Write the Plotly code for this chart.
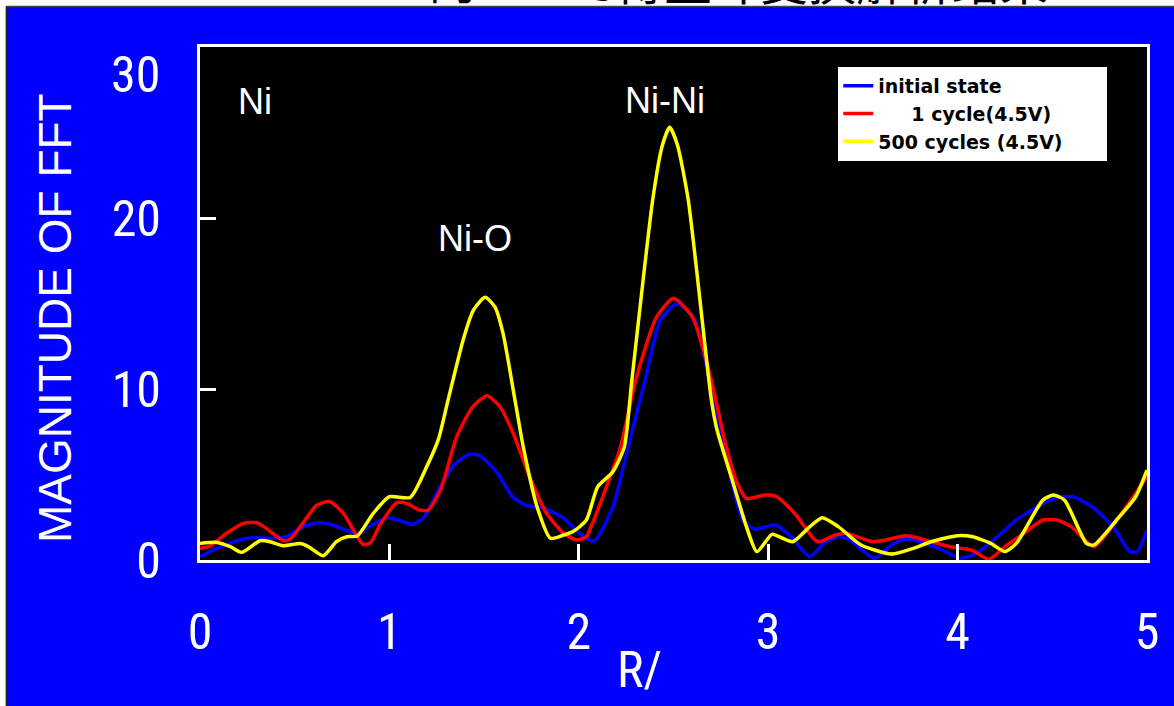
import plotly.graph_objects as go

# ---- data ----
r_initial = [0.0,0.07,0.14,0.21,0.28,0.39,0.46,0.545,0.63,0.70,0.79,0.83,0.88,0.985,1.056,1.12,1.18,1.25,1.34,1.425,1.48,1.57,1.65,1.72,1.81,1.92,2.0,2.08,2.18,2.26,2.35,2.43,2.52,2.61,2.69,2.78,2.865,2.93,3.04,3.12,3.22,3.295,3.37,3.43,3.56,3.65,3.725,3.80,3.90,4.01,4.10,4.21,4.31,4.45,4.545,4.62,4.72,4.82,4.91,4.95,5.0]
v_initial = [0.2,0.58,0.9,1.17,1.3,1.28,1.4,1.95,2.18,2.05,1.66,1.5,1.87,2.45,2.3,2.08,2.45,3.9,5.55,6.2,6.08,5.08,3.7,3.2,3.04,2.45,1.6,1.1,3.1,6.6,10.5,14.0,15.0,14.1,10.5,6.0,2.34,1.8,2.05,1.37,0.2,0.98,1.37,1.17,0.1,0.88,1.21,1.07,0.68,0.1,0.39,1.37,2.34,3.3,3.7,3.66,3.02,1.95,0.49,0.5,1.75]

r_1cycle = [0.0,0.05,0.14,0.23,0.30,0.35,0.44,0.475,0.53,0.616,0.686,0.757,0.81,0.86,0.90,0.95,1.04,1.09,1.16,1.205,1.27,1.355,1.44,1.515,1.584,1.654,1.74,1.83,1.92,1.99,2.04,2.065,2.14,2.22,2.30,2.41,2.50,2.60,2.70,2.77,2.83,2.885,2.98,3.04,3.14,3.26,3.355,3.41,3.55,3.62,3.725,3.80,3.96,4.075,4.165,4.25,4.35,4.45,4.525,4.60,4.72,4.84,5.0]
v_1cycle = [0.68,0.8,1.56,2.14,2.18,1.85,1.13,1.21,1.95,3.2,3.41,2.73,1.75,0.92,1.0,2.05,3.35,3.31,2.92,2.92,4.1,7.2,8.96,9.6,8.96,7.4,4.87,2.73,1.56,1.17,1.36,1.95,4.1,6.6,10.5,14.2,15.3,14.2,10.5,7.0,4.68,3.6,3.8,3.74,2.73,1.07,1.46,1.56,1.07,1.17,1.42,1.26,0.78,0.58,0.04,0.78,1.56,2.34,2.34,1.95,0.78,2.34,4.87]

r_500cycles = [0.0,0.09,0.16,0.22,0.317,0.37,0.44,0.53,0.57,0.65,0.72,0.775,0.83,0.915,1.0,1.11,1.197,1.26,1.31,1.39,1.443,1.505,1.557,1.60,1.663,1.707,1.78,1.85,1.92,1.97,2.04,2.10,2.18,2.24,2.28,2.39,2.44,2.48,2.52,2.578,2.70,2.73,2.81,2.885,2.94,3.02,3.07,3.13,3.22,3.285,3.37,3.49,3.65,3.765,3.86,4.0,4.075,4.175,4.25,4.31,4.45,4.505,4.565,4.68,4.72,4.84,4.94,5.0]
v_500cycles = [0.97,1.03,0.78,0.45,1.13,1.07,0.84,0.97,0.8,0.25,1.07,1.36,1.4,2.73,3.7,3.66,5.46,7.1,9.36,12.9,14.6,15.36,14.8,13.25,9.36,6.6,3.1,1.27,1.46,1.66,2.34,4.29,5.16,6.6,10.5,21.05,24.2,25.3,24.3,21.05,9.36,7.6,4.68,1.95,0.49,1.5,1.3,1.07,1.95,2.47,1.95,0.88,0.35,0.68,1.07,1.42,1.37,0.97,0.49,0.97,3.5,3.8,3.5,0.97,0.88,2.34,3.7,5.26]

series_names = ["initial state", "\u00a0\u00a0\u00a0\u00a0\u00a01 cycle(4.5V)", "500 cycles (4.5V)\u00a0\u00a0\u00a0\u00a0\u00a0\u00a0"]
series_colors = ["#0000FF", "#FF0000", "#FFFF00"]

x_ticks = [0, 1, 2, 3, 4, 5]
y_ticks = [0, 10, 20, 30]
y_tick_text = ["0", "10", "20", ""]

peak_labels = ["Ni", "Ni-O", "Ni-Ni"]
peak_x = [0.29, 1.45, 2.455]
peak_y = [26.8, 18.8, 26.9]

title_text = "Ni的EXAFS傅里叶变换解析结果"

NARROW = "Liberation Sans Narrow, Arial Narrow, Roboto Condensed, Liberation Sans, sans-serif"

fig = go.Figure()
for xs, ys, name, col in zip([r_initial, r_1cycle, r_500cycles],
                             [v_initial, v_1cycle, v_500cycles],
                             series_names, series_colors):
    fig.add_trace(go.Scatter(x=xs, y=ys, mode="lines", name=name,
                             line=dict(color=col, width=3.5, shape="spline", smoothing=0.6)))

annotations = []
for t, x, y in zip(peak_labels, peak_x, peak_y):
    annotations.append(dict(x=x, y=y, xref="x", yref="y", text=t, showarrow=False,
                            font=dict(family="Liberation Sans, Arial, sans-serif", size=36, color="white")))
# the "30" tick label sits lower in the reference
annotations.append(dict(x=0, y=30, xref="paper", yref="y", text="30", showarrow=False,
                        xanchor="right", yanchor="middle", xshift=-38, yshift=-28,
                        font=dict(family=NARROW, size=50, color="white")))
annotations.append(dict(x=-0.1531, y=0.4717, xref="paper", yref="paper", text="MAGNITUDE OF FFT",
                        textangle=-90, showarrow=False, xanchor="center", yanchor="middle",
                        font=dict(family="Liberation Sans, Arial, sans-serif", size=46, color="white")))
annotations.append(dict(x=0.4646, y=-0.2144, xref="paper", yref="paper", text="R/",
                        showarrow=False, xanchor="center", yanchor="middle",
                        font=dict(family=NARROW, size=50, color="white")))
annotations.append(dict(x=0.5438, y=1.0799, xref="paper", yref="paper", text=title_text,
                        showarrow=False, xanchor="center", yanchor="bottom", yshift=-10,
                        font=dict(family="Noto Sans CJK SC, sans-serif", size=48, color="black")))

shapes = [
    # white strip on top and left edge of the page
    dict(type="rect", xref="paper", yref="paper", x0=-0.25, x1=1.1, y0=1.0799, y1=1.2,
         fillcolor="white", line=dict(width=0), layer="above"),
    dict(type="rect", xref="paper", yref="paper", x0=-0.25, x1=-0.2049, y0=-0.4, y1=1.2,
         fillcolor="white", line=dict(width=0), layer="above"),
    dict(type="line", xref="paper", yref="paper", x0=-0.2049, x1=1.1, y0=1.0789, y1=1.0789,
         line=dict(color="#444444", width=1.5), layer="above"),
    dict(type="line", xref="paper", yref="paper", x0=-0.2044, x1=-0.2044, y0=-0.4, y1=1.0789,
         line=dict(color="#222222", width=1.5), layer="above"),
]

fig.update_layout(
    width=1174, height=706,
    margin=dict(l=200, r=27, t=47, b=146),
    paper_bgcolor="#0000FF",
    plot_bgcolor="black",
    showlegend=True,
    legend=dict(x=0.674, y=0.961, xanchor="left", yanchor="top",
                bgcolor="white", borderwidth=0,
                font=dict(family="DejaVu Sans, sans-serif", size=19, color="black", weight="bold"),
                itemwidth=30, tracegroupgap=0),
    annotations=annotations,
    shapes=shapes,
)
fig.update_xaxes(range=[0, 5], tickvals=x_ticks, ticktext=[str(v) for v in x_ticks],
                 showgrid=False, zeroline=False,
                 showline=True, linecolor="white", linewidth=3, mirror=True,
                 ticks="inside", ticklen=16, tickwidth=3, tickcolor="white",
                 ticklabelstandoff=26,
                 tickfont=dict(family=NARROW, size=50, color="white"))
fig.update_yaxes(range=[0, 30], tickvals=y_ticks, ticktext=y_tick_text,
                 showgrid=False, zeroline=False,
                 showline=True, linecolor="white", linewidth=3, mirror=True,
                 ticks="inside", ticklen=16, tickwidth=3, tickcolor="white",
                 ticklabelstandoff=26,
                 tickfont=dict(family=NARROW, size=50, color="white"))

fig.write_html("out.html")
